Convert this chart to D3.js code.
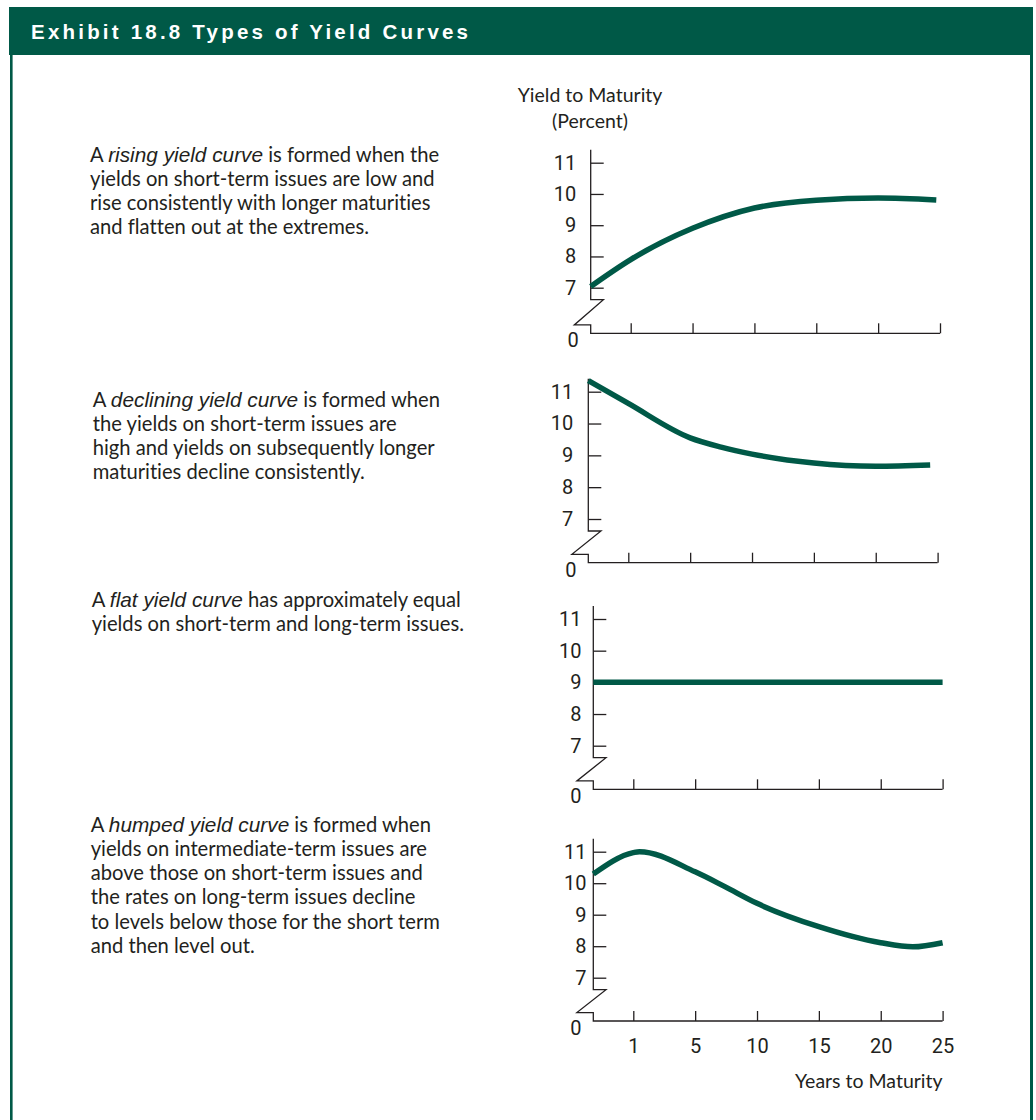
<!DOCTYPE html>
<html>
<head>
<meta charset="utf-8">
<script src="https://cdn.jsdelivr.net/npm/d3@7"></script>
<style>
  html, body { margin: 0; padding: 0; background: #ffffff; }
  svg { display: block; }
  text { font-variant-ligatures: none; }
</style>
</head>
<body>
<svg id="chart" width="1036" height="1120"></svg>
<script>
// ---------------- data ----------------
const title = "Exhibit 18.8 Types of Yield Curves";
const yAxisTitle = ["Yield to Maturity", "(Percent)"];
const xAxisTitle = "Years to Maturity";
const yearLabels = ["1", "5", "10", "15", "20", "25"];
const yieldTicks = [7, 8, 9, 10, 11];

const risingYears = [0, 1, 5, 10, 15, 20, 24.7];
const risingYields = [7.04, 7.9, 8.9, 9.55, 9.8, 9.87, 9.81];

const decliningYears = [0, 1, 5, 7.5, 10, 15, 20, 24.4];
const decliningYields = [11.35, 10.63, 9.55, 9.26, 9.04, 8.76, 8.66, 8.7];

const flatYears = [0, 25];
const flatYields = [9, 9];

const humpedYears = [0, 1, 1.4, 5, 7.4, 10, 15, 20, 22.6, 25];
const humpedYields = [10.29, 10.97, 11.0, 10.36, 9.89, 9.36, 8.62, 8.11, 7.98, 8.11];

const risingText = [
  [["A ", false], ["rising yield curve", true], [" is formed when the", false]],
  [["yields on short-term issues are low and", false]],
  [["rise consistently with longer maturities", false]],
  [["and flatten out at the extremes.", false]]
];
const decliningText = [
  [["A ", false], ["declining yield curve", true], [" is formed when", false]],
  [["the yields on short-term issues are", false]],
  [["high and yields on subsequently longer", false]],
  [["maturities decline consistently.", false]]
];
const flatText = [
  [["A ", false], ["flat yield curve", true], [" has approximately equal", false]],
  [["yields on short-term and long-term issues.", false]]
];
const humpedText = [
  [["A ", false], ["humped yield curve", true], [" is formed when", false]],
  [["yields on intermediate-term issues are", false]],
  [["above those on short-term issues and", false]],
  [["the rates on long-term issues decline", false]],
  [["to levels below those for the short term", false]],
  [["and then level out.", false]]
];

// ---------------- layout / style ----------------
const GREEN = "#005947";
const INK = "#231f20";
const BODY_FONT = "Lato, 'Open Sans', sans-serif";
const NUM_FONT = "Roboto, 'Liberation Sans', sans-serif";
const ITALIC_FONT = "'Liberation Sans', Arial, sans-serif";
const BODY_SIZE = 20.2;
const ITALIC_SIZE = 20.8;
const LABEL_SIZE = 19.5;
const NUM_SIZE = 20;

const panels = [
  { years: risingYears, yields: risingYields, text: risingText, x0: 590.7, y11: 162.7, y7: 287.7, axisY: 333.3, labelPad: 14.5, tx: 90, ty: 161.7, showX: false },
  { years: decliningYears, yields: decliningYields, text: decliningText, x0: 588.3, y11: 391.7, y7: 519, axisY: 562.7, labelPad: 15, tx: 92.7, ty: 406.7, showX: false },
  { years: flatYears, yields: flatYields, text: flatText, x0: 593.3, y11: 619, y7: 745.7, axisY: 789.3, labelPad: 11.8, tx: 91.7, ty: 606.7, showX: false },
  { years: humpedYears, yields: humpedYields, text: humpedText, x0: 593.3, y11: 851.7, y7: 977.7, axisY: 1021, labelPad: 6.8, tx: 90.7, ty: 831.7, showX: true }
];

const svg = d3.select("#chart");

// frame
svg.append("rect").attr("x", 9).attr("y", 7).attr("width", 1024).attr("height", 48).attr("fill", GREEN);
svg.append("rect").attr("x", 10).attr("y", 55).attr("width", 2.6).attr("height", 1065).attr("fill", GREEN);
svg.append("rect").attr("x", 1030).attr("y", 55).attr("width", 3).attr("height", 1065).attr("fill", GREEN);

svg.append("text")
  .attr("x", 31).attr("y", 39)
  .attr("fill", "#ffffff")
  .attr("font-family", "'Liberation Sans', Arial, sans-serif")
  .attr("font-weight", "bold")
  .attr("font-size", 20.5)
  .attr("textLength", 437)
  .attr("lengthAdjust", "spacing")
  .text(title);

// y axis title
svg.append("g").selectAll("text").data(yAxisTitle).join("text")
  .attr("x", 590).attr("y", (d, i) => 101.7 + i * 26)
  .attr("text-anchor", "middle")
  .attr("fill", INK)
  .attr("font-family", BODY_FONT)
  .attr("font-size", LABEL_SIZE)
  .text(d => d);

const AX_W = 1.3;
const YTICK = 13, XTICK = 10, PLOT_W = 349.3;

panels.forEach((p, idx) => {
  const g = svg.append("g");
  const y = d3.scaleLinear().domain([7, 11]).range([p.y7, p.y11]);
  const xCat = d3.scalePoint().domain(yearLabels).range([p.x0 + 40, p.x0 + PLOT_W]);
  const xYears = d3.scaleLinear()
    .domain([0].concat(yearLabels.map(Number)))
    .range([p.x0].concat(yearLabels.map(d => xCat(d))));

  // y axis (ticks pointing inward, labels on the left)
  const yAxis = d3.axisLeft(y).tickValues(yieldTicks).tickSizeInner(-YTICK).tickSizeOuter(0)
    .tickPadding(p.labelPad).tickFormat(d3.format("d"));
  const ya = g.append("g").attr("transform", `translate(${p.x0},0)`).call(yAxis);
  ya.attr("font-family", NUM_FONT).attr("font-size", NUM_SIZE);
  ya.select(".domain").remove();
  ya.selectAll(".tick line").attr("stroke", INK).attr("stroke-width", AX_W);
  ya.selectAll(".tick text").attr("fill", INK).attr("font-family", NUM_FONT).attr("font-size", NUM_SIZE);

  // x axis (ticks pointing up)
  const xAxis = d3.axisBottom(xCat).tickSizeInner(-XTICK).tickSizeOuter(0).tickPadding(18)
    .tickFormat(p.showX ? (d => d) : () => "");
  const xa = g.append("g").attr("transform", `translate(0,${p.axisY})`).call(xAxis);
  xa.attr("font-family", NUM_FONT).attr("font-size", NUM_SIZE);
  xa.select(".domain").remove();
  xa.selectAll(".tick line").attr("stroke", INK).attr("stroke-width", AX_W);
  xa.selectAll(".tick text").attr("fill", INK).attr("font-family", NUM_FONT).attr("font-size", NUM_SIZE);

  // axis lines with break symbol
  const top = y(11) - 13;
  const breakTop = y(7) + 12;
  const breakBot = p.axisY - 8.4;
  const axisPath = d3.path();
  axisPath.moveTo(p.x0, top);
  axisPath.lineTo(p.x0, breakTop);
  axisPath.lineTo(p.x0 + 12.7, breakTop);
  axisPath.lineTo(p.x0 - 16.4, breakBot);
  axisPath.lineTo(p.x0, breakBot);
  axisPath.lineTo(p.x0, p.axisY);
  axisPath.lineTo(p.x0 + PLOT_W, p.axisY);
  g.append("path").attr("d", axisPath.toString())
    .attr("fill", "none").attr("stroke", INK).attr("stroke-width", AX_W).attr("stroke-linejoin", "miter");

  // zero label
  g.append("text").attr("x", p.x0 - 17.5).attr("y", p.axisY + 7).attr("dy", "0.35em")
    .attr("text-anchor", "middle").attr("fill", INK)
    .attr("font-family", NUM_FONT).attr("font-size", NUM_SIZE).text("0");

  // curve
  const pts = p.years.map((yr, i) => [yr, p.yields[i]]);
  const line = d3.line().x(d => xYears(d[0])).y(d => y(d[1])).curve(d3.curveMonotoneX);
  g.append("path").datum(pts).attr("d", line)
    .attr("fill", "none").attr("stroke", GREEN).attr("stroke-width", 5.5).attr("stroke-linecap", "butt");

  // description text
  const t = g.append("g");
  p.text.forEach((ln, li) => {
    const te = t.append("text").attr("x", p.tx).attr("y", p.ty + li * 24.2)
      .attr("fill", INK).attr("font-family", BODY_FONT).attr("font-size", BODY_SIZE);
    ln.forEach(seg => {
      const ts = te.append("tspan").text(seg[0]);
      if (seg[1]) ts.attr("font-family", ITALIC_FONT).attr("font-style", "italic").attr("font-size", ITALIC_SIZE);
    });
  });

  if (p.showX) {
    g.append("text").attr("x", p.x0 + PLOT_W).attr("y", p.axisY + 67)
      .attr("text-anchor", "end").attr("fill", INK)
      .attr("font-family", BODY_FONT).attr("font-size", LABEL_SIZE).text(xAxisTitle);
  }
});
</script>
</body>
</html>
